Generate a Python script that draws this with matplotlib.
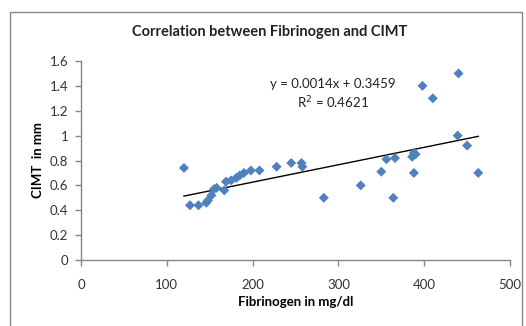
import matplotlib
matplotlib.use("Agg")
import matplotlib.pyplot as plt
import numpy as np

fibrinogen = [120, 127, 137, 146, 148, 152, 155, 158, 167, 169, 175, 181, 185, 190,
              198, 208, 228, 245, 257, 258, 283, 326, 350, 356, 366, 364, 386, 388,
              390, 388, 398, 410, 440, 439, 450, 463]
cimt = [0.74, 0.44, 0.44, 0.46, 0.48, 0.52, 0.57, 0.58, 0.56, 0.63, 0.64, 0.66, 0.68, 0.70,
        0.72, 0.72, 0.75, 0.78, 0.78, 0.75, 0.50, 0.60, 0.71, 0.81, 0.82, 0.50, 0.83, 0.86,
        0.85, 0.70, 1.40, 1.30, 1.50, 1.00, 0.92, 0.70]
slope, intercept = 0.0014, 0.3459
r2 = 0.4621
x_ticks = [0, 100, 200, 300, 400, 500]
y_ticks = [0, 0.2, 0.4, 0.6, 0.8, 1.0, 1.2, 1.4, 1.6]
y_ticklabels = ["0", "0.2", "0.4", "0.6", "0.8", "1", "1.2", "1.4", "1.6"]

plt.rcParams['font.family'] = ['Lato', 'DejaVu Sans']

W, H = 526, 326
fig = plt.figure(figsize=(W / 100, H / 100), dpi=100)

# chart border (partially cut at bottom)
border = plt.Rectangle((10 / W, -0.05), (522 - 10) / W, (H - 12) / H + 0.05,
                       transform=fig.transFigure, fill=False, edgecolor='#868686', lw=1.0)
fig.add_artist(border)

ax = fig.add_axes([81 / W, (H - 260) / H, (510 - 81) / W, (260 - 61) / H])
ax.scatter(fibrinogen, cimt, marker='D', s=26, color='#4F81BD', edgecolors='none', zorder=3)

xl = np.array([min(fibrinogen), max(fibrinogen)])
ax.plot(xl, slope * xl + intercept, color='black', lw=1.0, zorder=2)

ax.set_xlim(0, 500)
ax.set_ylim(0, 1.6)
ax.set_xticks(x_ticks)
ax.set_yticks(y_ticks)
ax.set_yticklabels(y_ticklabels)
for s in ['top', 'right']:
    ax.spines[s].set_visible(False)
for s in ['left', 'bottom']:
    ax.spines[s].set_color('#868686')
    ax.spines[s].set_linewidth(1.0)
ax.tick_params(axis='both', direction='out', length=4, width=1.0, color='#868686',
               labelsize=9.5, labelcolor='#333333')
ax.tick_params(axis='x', pad=10)
ax.tick_params(axis='y', pad=5)

ax.set_xlabel("Fibrinogen in mg/dl", fontsize=9.5, fontweight='bold', labelpad=3)
ax.set_ylabel("CIMT  in mm", fontsize=9.5, fontweight='bold', labelpad=4)

ax.text(294, 1.33, "y = 0.0014x + 0.3459\nR$^2$ = 0.4621", ha='center', va='center',
        fontsize=9.5, linespacing=1.3, color='#222222')

fig.text(270 / W, 1 - 32 / H, "Correlation between Fibrinogen and CIMT", ha='center',
         va='center', fontsize=10.5, fontweight='bold', color='#222222')

fig.savefig("out.png", dpi=100)
